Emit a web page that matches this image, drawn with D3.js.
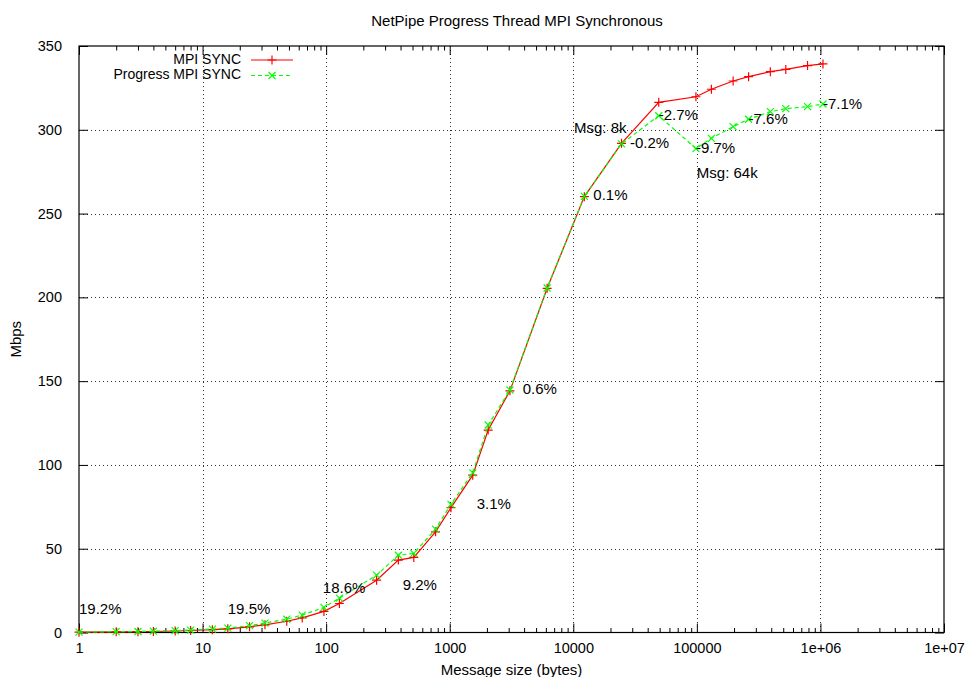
<!DOCTYPE html>
<html>
<head>
<meta charset="utf-8">
<script src="https://cdn.jsdelivr.net/npm/d3@7"></script>
<style>
  html, body { margin: 0; padding: 0; background: #fff; }
  svg { display: block; }
  text { font-family: "Liberation Sans", Arial, Helvetica, sans-serif; fill: #000; }
</style>
</head>
<body>
<svg id="chart" width="967" height="677"></svg>
<script>
// Message sizes (bytes) and measured throughput (Mbps)
const messageSizes = [1, 2, 3, 4, 6, 8, 12, 16, 24, 32, 48, 64, 96, 128, 256, 384, 512, 768,
  1024, 1536, 2048, 3072, 6144, 12288, 24576, 49152, 98304, 131072, 196608, 262144,
  393216, 524288, 786432, 1048576];
const mpiSync = [0.2, 0.4, 0.5, 0.6, 0.9, 1.2, 1.7, 2.2, 3.4, 4.6, 6.7, 8.7, 12.6, 17.3, 31.2,
  43.2, 44.8, 60.1, 74.5, 93.9, 120.8, 144.2, 205.4, 260.1, 291.9, 316.4, 319.7, 324.2,
  329.1, 331.7, 334.7, 336.0, 338.3, 339.3];
const progressMpiSync = [0.25, 0.5, 0.6, 0.8, 1.1, 1.45, 2.05, 2.65, 4.1, 5.6, 8.0, 10.4, 15.0,
  20.5, 34.2, 46.1, 47.2, 61.7, 76.5, 95.3, 123.8, 144.7, 205.6, 260.3, 291.6, 308.4,
  288.8, 294.9, 301.9, 306.3, 310.8, 312.6, 313.8, 315.4];

const seriesNames = ["MPI SYNC", "Progress MPI SYNC"];

// Axis ticks
const xTickValues = [1, 10, 100, 1000, 10000, 100000, 1e6, 1e7];
const xTickLabels = ["1", "10", "100", "1000", "10000", "100000", "1e+06", "1e+07"];
const yTickValues = [0, 50, 100, 150, 200, 250, 300, 350];

// Annotations (text, message size, Mbps)
const noteTexts = ["19.2%", "19.5%", "18.6%", "9.2%", "3.1%", "0.6%", "0.1%", "-0.2%",
  "Msg: 8k", "-2.7%", "-9.7%", "Msg: 64k", "-7.6%", "-7.1%"];
const noteX = [1, 16, 94, 416, 1654, 3896, 14521, 28774, 10134, 49152, 98304, 100000, 262144, 1048576];
const noteY = [13.4, 13.4, 25.8, 27.9, 76.1, 144.4, 260.2, 291.6, 300.4, 308, 288.7, 273.6, 306, 315];

const svg = d3.select("#chart");
const plotLeft = 79, plotRight = 944, plotTop = 46, plotBottom = 632.5;

const x = d3.scaleLog().domain([1, 1e7]).range([plotLeft, plotRight]);
const y = d3.scaleLinear().domain([0, 350]).range([plotBottom, plotTop]);

// Grid
const grid = svg.append("g").attr("stroke", "#000").attr("stroke-width", 1)
  .attr("stroke-dasharray", "1,3").attr("opacity", 0.8);
xTickValues.slice(1, -1).forEach(v => {
  grid.append("line").attr("x1", Math.round(x(v)) + 0.5).attr("x2", Math.round(x(v)) + 0.5)
    .attr("y1", plotTop).attr("y2", plotBottom);
});
yTickValues.slice(1, -1).forEach(v => {
  grid.append("line").attr("y1", Math.round(y(v)) + 0.5).attr("y2", Math.round(y(v)) + 0.5)
    .attr("x1", plotLeft).attr("x2", plotRight);
});

// Axes (ticks mirrored on all four sides)
const minorX = [];
for (let e = 0; e < 7; e++) for (let m = 2; m <= 9; m++) minorX.push(m * Math.pow(10, e));

const axisBottom = d3.axisBottom(x).tickValues(xTickValues).tickFormat((d, i) => xTickLabels[i])
  .tickSizeInner(-9).tickSizeOuter(0).tickPadding(14);
const gB = svg.append("g").attr("transform", `translate(0,${plotBottom})`).call(axisBottom);
const gBm = svg.append("g").attr("transform", `translate(0,${plotBottom})`)
  .call(d3.axisBottom(x).tickValues(minorX).tickFormat("").tickSizeInner(-4.5).tickSizeOuter(0));
const gT = svg.append("g").attr("transform", `translate(0,${plotTop})`)
  .call(d3.axisTop(x).tickValues(xTickValues).tickFormat("").tickSizeInner(-9).tickSizeOuter(0));
const gTm = svg.append("g").attr("transform", `translate(0,${plotTop})`)
  .call(d3.axisTop(x).tickValues(minorX).tickFormat("").tickSizeInner(-4.5).tickSizeOuter(0));
const gL = svg.append("g").attr("transform", `translate(${plotLeft},0)`)
  .call(d3.axisLeft(y).tickValues(yTickValues).tickSizeInner(-9).tickSizeOuter(0).tickPadding(17));
const gR = svg.append("g").attr("transform", `translate(${plotRight},0)`)
  .call(d3.axisRight(y).tickValues(yTickValues).tickFormat("").tickSizeInner(-9).tickSizeOuter(0));

[gB, gBm, gT, gTm, gL, gR].forEach(g => {
  g.select(".domain").remove();
  g.selectAll("line").attr("stroke", "#000");
  g.selectAll("text").attr("font-size", "14.5px")
    .attr("font-family", "'Liberation Sans', Arial, sans-serif");
});
gB.selectAll("text").attr("dy", "0.35em").attr("y", 15.5);

// Frame
svg.append("rect").attr("x", plotLeft).attr("y", plotTop).attr("width", plotRight - plotLeft)
  .attr("height", plotBottom - plotTop)
  .attr("fill", "none").attr("stroke", "#000").attr("stroke-width", 1.2);

// Titles
svg.append("text").attr("x", 517).attr("y", 22).attr("text-anchor", "middle")
  .attr("dominant-baseline", "middle").attr("font-size", "15px")
  .text("NetPipe Progress Thread MPI Synchronous");
svg.append("text").attr("x", (plotLeft + plotRight) / 2).attr("y", 671).attr("text-anchor", "middle")
  .attr("dominant-baseline", "middle").attr("font-size", "15px").text("Message size (bytes)");
svg.append("text").attr("transform", `translate(17,${(plotTop + plotBottom) / 2}) rotate(-90)`)
  .attr("text-anchor", "middle").attr("dominant-baseline", "middle").attr("font-size", "15px").text("Mbps");

// Series
const plot = svg.append("g");
const lineGen = vals => d3.line().x((d, i) => x(messageSizes[i])).y(d => y(d))(vals);

function plusPath(cx, cy, r) { return `M${cx - r},${cy}H${cx + r}M${cx},${cy - r}V${cy + r}`; }
function crossPath(cx, cy, r) { return `M${cx - r},${cy - r}L${cx + r},${cy + r}M${cx - r},${cy + r}L${cx + r},${cy - r}`; }

plot.append("path").attr("d", lineGen(mpiSync)).attr("fill", "none").attr("stroke", "#ff0000").attr("stroke-width", 1.2);
plot.append("g").selectAll("path").data(mpiSync).join("path")
  .attr("d", (d, i) => plusPath(x(messageSizes[i]), y(d), 4.5))
  .attr("stroke", "#ff0000").attr("stroke-width", 1.2).attr("fill", "none");

plot.append("path").attr("d", lineGen(progressMpiSync)).attr("fill", "none").attr("stroke", "#00ff00")
  .attr("stroke-width", 1.2).attr("stroke-dasharray", "4,3");
plot.append("g").selectAll("path").data(progressMpiSync).join("path")
  .attr("d", (d, i) => crossPath(x(messageSizes[i]), y(d), 3.5))
  .attr("stroke", "#00ff00").attr("stroke-width", 1.2).attr("fill", "none");

// Legend
const legend = svg.append("g");
const legendY = [60, 75.5];
seriesNames.forEach((name, i) => {
  legend.append("text").attr("x", 241).attr("y", legendY[i]).attr("text-anchor", "end")
    .attr("dominant-baseline", "middle").attr("font-size", "14px").text(name);
  legend.append("line").attr("x1", 251).attr("x2", 293).attr("y1", legendY[i]).attr("y2", legendY[i])
    .attr("stroke", i === 0 ? "#ff0000" : "#00ff00").attr("stroke-width", 1.2)
    .attr("stroke-dasharray", i === 0 ? null : "4,3");
  legend.append("path").attr("d", i === 0 ? plusPath(272, legendY[i], 4.5) : crossPath(272, legendY[i], 3.5))
    .attr("stroke", i === 0 ? "#ff0000" : "#00ff00").attr("stroke-width", 1.2);
});

// Annotations
svg.append("g").selectAll("text").data(noteTexts).join("text")
  .attr("x", (d, i) => x(noteX[i])).attr("y", (d, i) => y(noteY[i]))
  .attr("dominant-baseline", "middle").attr("font-size", "15px").text(d => d);
</script>
</body>
</html>
